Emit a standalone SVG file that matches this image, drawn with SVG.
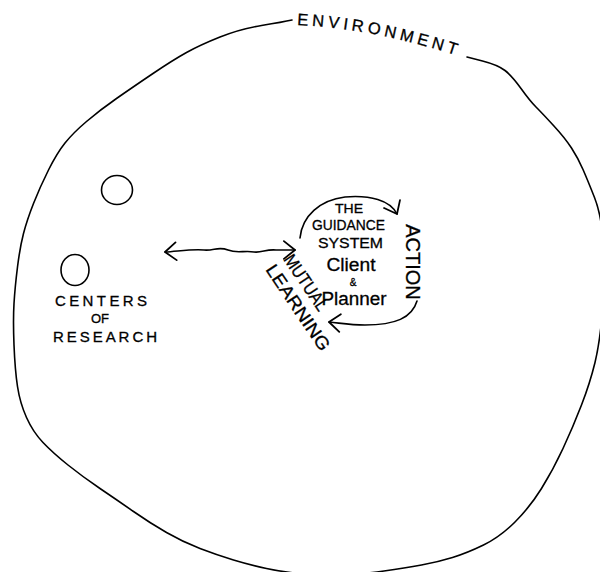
<svg xmlns="http://www.w3.org/2000/svg" width="600" height="572" viewBox="0 0 600 572">
<style>
.ln{fill:none;stroke:#000;stroke-width:1.6;stroke-linecap:round;stroke-linejoin:round}
.t{font-family:"Liberation Sans","DejaVu Sans",sans-serif;fill:#000;stroke:#000;stroke-width:0.3}
</style>
<defs>
<marker id="open" markerUnits="userSpaceOnUse" markerWidth="14" markerHeight="20" viewBox="0 0 12 18" refX="11" refY="9" orient="auto-start-reverse">
<path d="M1,1 L11,9 L1,17" fill="none" stroke="#000" stroke-width="1.6" stroke-linecap="round" stroke-linejoin="round"/>
</marker>
<path id="envPath" d="M297,25 Q380,29 470,60"/>
</defs>
<rect width="600" height="572" fill="#fff"/>
<g id="environment">
<path class="ln" d="M467,57 L482.5,61 Q498,65 505,70.5 Q512,76 521,88.5 Q530,101 536,107 Q542,113 553.5,125.5 Q565,138 571.5,148 Q578,158 583,169.5 Q588,181 594.5,197.5 Q601,214 603.5,242 Q606,270 603,306 Q600,342 595,362.5 Q590,383 581.5,405 Q573,427 563,448.5 Q553,470 541.5,488.5 Q530,507 515,522 Q500,537 483.5,545 Q467,553 452.5,557.5 Q438,562 421.5,565 Q405,568 384,571 Q363,574 343,575 Q323,576 303,574 Q283,572 266.5,568.5 Q250,565 233.5,560 Q217,555 200,548.5 Q183,542 166.5,532.5 Q150,523 133.5,511.5 Q117,500 100,488.5 Q83,477 68,465 Q53,453 43,442.5 Q33,432 26.5,417.5 Q20,403 17.5,386.5 Q15,370 14,345 Q13,320 14,303.5 Q15,287 17.5,267 Q20,247 23.5,233.5 Q27,220 33.5,203.5 Q40,187 48.5,170 Q57,153 65,143 Q73,133 86.5,121.5 Q100,110 116.5,98.5 Q133,87 153,73.5 Q173,60 186.5,52.5 Q200,45 220,37 Q240,29 261.5,25.5 Q283,22 292,20"/>
<text class="t" font-size="16.5" letter-spacing="4"><textPath href="#envPath">ENVIRONMENT</textPath></text>
</g>
<g id="center-1">
<ellipse class="ln" cx="117" cy="190" rx="15.5" ry="14.5"/>
</g>
<g id="center-2">
<ellipse class="ln" cx="75" cy="270" rx="14" ry="15.5"/>
<text class="t" font-size="15" text-anchor="middle" x="101" y="306" textLength="92" lengthAdjust="spacing">CENTERS</text>
<text class="t" font-size="13" text-anchor="middle" x="100" y="323">OF</text>
<text class="t" font-size="15" text-anchor="middle" x="105" y="342" textLength="104" lengthAdjust="spacing">RESEARCH</text>
</g>
<g id="guidance-system">
<text class="t" font-size="12" text-anchor="middle" x="349" y="213" textLength="28" lengthAdjust="spacingAndGlyphs">THE</text>
<text class="t" font-size="14" text-anchor="middle" x="348.5" y="230" textLength="73" lengthAdjust="spacingAndGlyphs">GUIDANCE</text>
<text class="t" font-size="15" text-anchor="middle" x="350.5" y="247.5" textLength="65" lengthAdjust="spacingAndGlyphs">SYSTEM</text>
<text class="t" font-size="18" text-anchor="middle" x="351" y="271" textLength="49" lengthAdjust="spacingAndGlyphs">Client</text>
<text class="t" font-size="10" text-anchor="middle" x="353" y="286">&amp;</text>
<text class="t" font-size="18" text-anchor="middle" x="354" y="305" textLength="65" lengthAdjust="spacingAndGlyphs">Planner</text>
</g>
<g id="action">
<text class="t" font-size="20" text-anchor="middle" transform="translate(406,262) rotate(90)">ACTION</text>
</g>
<g id="mutual-learning">
<text class="t" font-size="18" text-anchor="middle" transform="translate(301,286) rotate(56)" textLength="64" lengthAdjust="spacingAndGlyphs">MUTUAL</text>
<text class="t" font-size="18" text-anchor="middle" transform="translate(293,311) rotate(56)" textLength="100" lengthAdjust="spacingAndGlyphs">LEARNING</text>
</g>
<g id="connectors">
<path class="ln" marker-start="url(#open)" marker-end="url(#open)" d="M165,252 C180,251 192,249 204,250 C214,251 218,246 228,250 C238,254 244,250 254,252 C262,253 266,249 276,250 L295,250"/>
<path class="ln" marker-end="url(#open)" d="M300,238 C302,216 320,200 345,197 C370,195 390,200 397,214"/>
<path class="ln" marker-end="url(#open)" d="M417,301 C412,318 395,325 365,325 C350,325 340,323 329,322"/>
</g>
</svg>
